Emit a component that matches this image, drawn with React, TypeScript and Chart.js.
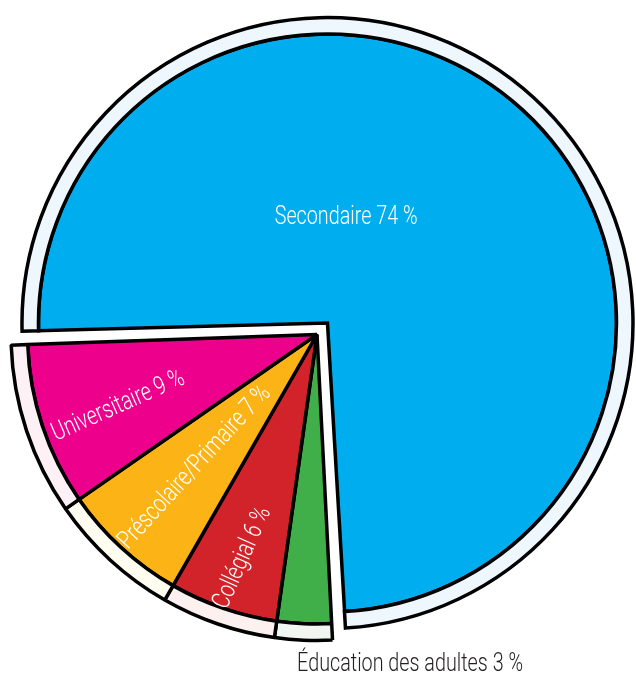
import React, { useEffect, useRef } from "react";
import { Chart, registerables } from "chart.js";

Chart.register(...registerables);

// ---- data ----
const categories = [
  "Secondaire",
  "Éducation des adultes",
  "Collégial",
  "Préscolaire/Primaire",
  "Universitaire",
];
const shares = [74, 3, 6, 7, 9];

// ---- styles ----
const fillColors = ["#00aeef", "#40ae49", "#d2232a", "#fcb316", "#ec008c"];
const bandColors = ["#eef7fe", "#f1f7f0", "#fcf1ef", "#fffdf0", "#fdf1f6"];

// label placement: shift (deg from slice middle), frac (of outer radius), rotate radially, tweak (deg)
const labelPlacement = [
  { shift: -32.5, frac: 0.35, rotate: false, tweak: 0, color: "#ffffff" },
  { shift: -18.3, frac: 1.12, rotate: false, tweak: 0, color: "#231f20" },
  { shift: -0.5, frac: 0.77, rotate: true, tweak: 5, color: "#ffffff" },
  { shift: 0, frac: 0.59, rotate: true, tweak: 0, color: "#ffffff" },
  { shift: -1.5, frac: 0.69, rotate: true, tweak: -5.5, color: "#ffffff" },
];

const FONT = '300 26px Roboto, "DejaVu Sans Condensed", sans-serif';
const TEXT_SCALE_X = 0.76;

function labelPlugin(visible: number[]) {
  return {
    id: "sliceLabels",
    afterDatasetsDraw(chart: any) {
      const ctx: CanvasRenderingContext2D = chart.ctx;
      const band = chart.getDatasetMeta(0);
      visible.forEach((i) => {
        const arc: any = band.data[i];
        const { x, y, startAngle, endAngle, outerRadius } = arc.getProps(
          ["x", "y", "startAngle", "endAngle", "outerRadius"],
          true
        );
        const off = (arc.options.offset || 0) / 4;
        const mid = (startAngle + endAngle) / 2;
        const cx = x + Math.cos(mid) * off;
        const cy = y + Math.sin(mid) * off;
        const R = outerRadius + off;
        const p = labelPlacement[i];
        const a = mid + (p.shift * Math.PI) / 180;
        const px = cx + Math.cos(a) * R * p.frac;
        const py = cy + Math.sin(a) * R * p.frac;
        ctx.save();
        ctx.translate(px, py);
        if (p.rotate) {
          let rot = mid;
          if (Math.cos(rot) < 0) rot += Math.PI;
          rot += (p.tweak * Math.PI) / 180;
          ctx.rotate(rot);
        }
        ctx.scale(TEXT_SCALE_X, 1);
        ctx.font = FONT;
        ctx.fillStyle = p.color;
        ctx.textAlign = "center";
        ctx.textBaseline = "middle";
        ctx.fillText(`${categories[i]} ${shares[i]} %`, 0, 0);
        ctx.restore();
      });
    },
  };
}

function makeChart(
  canvas: HTMLCanvasElement,
  visible: number[],
  offset: number,
  radius: number,
  weight: number,
  join: CanvasLineJoin
) {
  const show = (i: number) => visible.indexOf(i) >= 0;
  const bg = (cols: string[]) => cols.map((c, i) => (show(i) ? c : "rgba(0,0,0,0)"));
  const bw = shares.map((_, i) => (show(i) ? 3.5 : 0));
  const offs = shares.map((_, i) => (show(i) ? offset : 0));
  return new Chart(canvas, {
    type: "pie",
    data: {
      labels: categories,
      datasets: [
        {
          data: shares,
          backgroundColor: bg(bandColors),
          borderColor: "#000000",
          borderWidth: bw,
          offset: offs,
          weight: 1,
        } as any,
        {
          data: shares,
          backgroundColor: bg(fillColors),
          borderColor: "#000000",
          borderWidth: bw,
          offset: offs,
          weight: weight,
        } as any,
      ],
    },
    options: {
      responsive: false,
      animation: false,
      events: [],
      rotation: 268,
      radius: radius,
      layout: { padding: 0 },
      elements: { arc: { borderJoinStyle: join } as any },
      plugins: { legend: { display: false }, tooltip: { enabled: false } },
    } as any,
    plugins: [labelPlugin(visible) as any],
  });
}

export default function App() {
  const backRef = useRef<HTMLCanvasElement>(null);
  const frontRef = useRef<HTMLCanvasElement>(null);
  useEffect(() => {
    const c1 = makeChart(backRef.current!, [0], 62, 290, 16.6, "miter");
    const c2 = makeChart(frontRef.current!, [1, 2, 3, 4], 0, 306, 17.5, "bevel");
    return () => {
      c1.destroy();
      c2.destroy();
    };
  }, []);
  return (
    <div style={{ position: "absolute", left: -1, top: -4, width: 636, height: 677 }}>
      <canvas
        ref={backRef}
        width={636}
        height={677}
        style={{ position: "absolute", left: 0, top: 0, display: "block" }}
      />
      <canvas
        ref={frontRef}
        width={636}
        height={677}
        style={{ position: "absolute", left: 0, top: 0, display: "block" }}
      />
    </div>
  );
}
